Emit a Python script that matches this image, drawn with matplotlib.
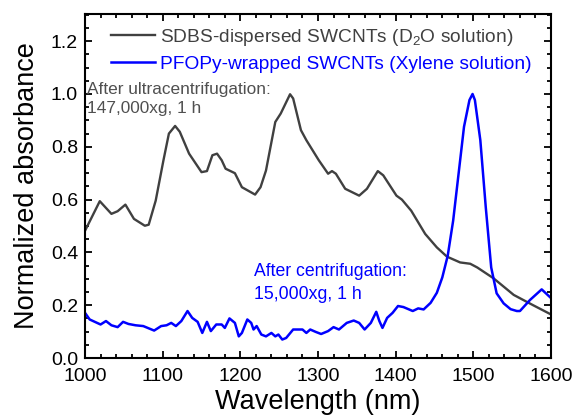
import numpy as np
import matplotlib
matplotlib.use("Agg")
import matplotlib.pyplot as plt
from matplotlib.ticker import MultipleLocator

plt.rcParams["font.family"] = ["Liberation Sans", "DejaVu Sans"]
plt.rcParams["mathtext.default"] = "regular"

# SDBS-dispersed SWCNTs (D2O)
sdbs_wl = [1000, 1019, 1034, 1042, 1052, 1063, 1077, 1082, 1091, 1101, 1108,
           1116, 1122, 1134, 1150, 1157, 1164, 1170, 1176, 1181, 1193, 1202,
           1219, 1226, 1233, 1245, 1252, 1264, 1268, 1278, 1285, 1301, 1313,
           1318, 1323, 1335, 1353, 1363, 1377, 1384, 1401, 1408, 1420, 1438,
           1453, 1466, 1483, 1496, 1505, 1526, 1552, 1577, 1600]
sdbs_abs = [0.482, 0.594, 0.546, 0.556, 0.581, 0.527, 0.501, 0.505, 0.596,
            0.749, 0.850, 0.879, 0.857, 0.774, 0.704, 0.708, 0.768, 0.774,
            0.749, 0.717, 0.700, 0.647, 0.619, 0.647, 0.710, 0.894, 0.926,
            0.999, 0.983, 0.863, 0.825, 0.749, 0.698, 0.708, 0.698, 0.641,
            0.615, 0.641, 0.708, 0.692, 0.615, 0.600, 0.558, 0.470, 0.419,
            0.384, 0.362, 0.357, 0.343, 0.302, 0.239, 0.200, 0.165]

# PFOPy-wrapped SWCNTs (xylene)
pfopy_wl = [1000, 1006, 1020, 1027, 1034, 1042, 1049, 1056, 1065, 1075, 1089,
            1098, 1105, 1111, 1117, 1124, 1132, 1138, 1145, 1151, 1157, 1162,
            1169, 1176, 1180, 1186, 1193, 1198, 1202, 1209, 1214, 1217, 1221,
            1227, 1233, 1240, 1245, 1249, 1254, 1259, 1268, 1280, 1285, 1290,
            1297, 1304, 1313, 1320, 1327, 1337, 1346, 1353, 1360, 1368, 1375,
            1379, 1383, 1389, 1396, 1403, 1410, 1422, 1429, 1436, 1445, 1453,
            1460, 1467, 1474, 1481, 1488, 1495, 1499, 1502, 1509, 1516, 1523,
            1530, 1539, 1548, 1556, 1560, 1573, 1588, 1600]
pfopy_abs = [0.171, 0.146, 0.127, 0.140, 0.124, 0.117, 0.137, 0.129, 0.124,
             0.121, 0.104, 0.121, 0.124, 0.133, 0.121, 0.140, 0.178, 0.152,
             0.137, 0.095, 0.137, 0.102, 0.127, 0.127, 0.114, 0.150, 0.133,
             0.082, 0.095, 0.146, 0.133, 0.108, 0.121, 0.089, 0.082, 0.095,
             0.082, 0.089, 0.070, 0.076, 0.108, 0.108, 0.095, 0.108, 0.099,
             0.091, 0.102, 0.117, 0.108, 0.133, 0.142, 0.133, 0.108, 0.133,
             0.175, 0.140, 0.114, 0.152, 0.171, 0.197, 0.193, 0.178, 0.188,
             0.184, 0.209, 0.247, 0.305, 0.387, 0.520, 0.698, 0.876, 0.977,
             1.000, 0.977, 0.825, 0.571, 0.343, 0.245, 0.207, 0.185, 0.178,
             0.178, 0.220, 0.260, 0.227]

gray = "#404040"
blue = "#0000ff"

fig = plt.figure(figsize=(5.76, 4.15), dpi=100)
ax = fig.add_axes([0.1476, 0.1373, 0.809, 0.829])

ax.plot(sdbs_wl, sdbs_abs, color=gray, lw=1.7, solid_joinstyle="round",
        label="SDBS-dispersed SWCNTs (D$_2$O solution)")
ax.plot(pfopy_wl, pfopy_abs, color=blue, lw=1.8, solid_joinstyle="round",
        label="PFOPy-wrapped SWCNTs (Xylene solution)")

ax.set_xlim(1000, 1600)
ax.set_ylim(0, 1.303)
ax.xaxis.set_major_locator(MultipleLocator(100))
ax.xaxis.set_minor_locator(MultipleLocator(20))
ax.yaxis.set_major_locator(MultipleLocator(0.2))
ax.yaxis.set_minor_locator(MultipleLocator(0.05))
ax.yaxis.set_major_formatter(plt.FuncFormatter(lambda v, p: "%.1f" % v))
ax.tick_params(which="both", direction="in", top=True, right=True,
               labelsize=14, width=1.3)
ax.tick_params(axis="x", pad=7)
ax.tick_params(axis="y", pad=5)
ax.tick_params(which="major", length=5)
ax.tick_params(which="minor", length=3)
for s in ax.spines.values():
    s.set_linewidth(1.5)

ax.set_xlabel("Wavelength (nm)", fontsize=19.5, labelpad=3)
ax.set_ylabel("Normalized absorbance", fontsize=19.5, labelpad=8)

leg = ax.legend(loc="upper left", bbox_to_anchor=(0.022, 1.008), frameon=False,
                fontsize=13.8, handlelength=2.3, handletextpad=0.3,
                labelspacing=0.4, borderpad=0.3)
for txt, c in zip(leg.get_texts(), [gray, blue]):
    txt.set_color(c)

ax.text(0.004, 0.753, "After ultracentrifugation:\n147,000xg, 1 h",
        transform=ax.transAxes, fontsize=12.4, color="#505050",
        va="center", ha="left", linespacing=1.4)
ax.text(0.362, 0.218, "After centrifugation:\n15,000xg, 1 h",
        transform=ax.transAxes, fontsize=12.7, color=blue,
        va="center", ha="left", linespacing=1.45)

fig.savefig("out.png", dpi=100)
